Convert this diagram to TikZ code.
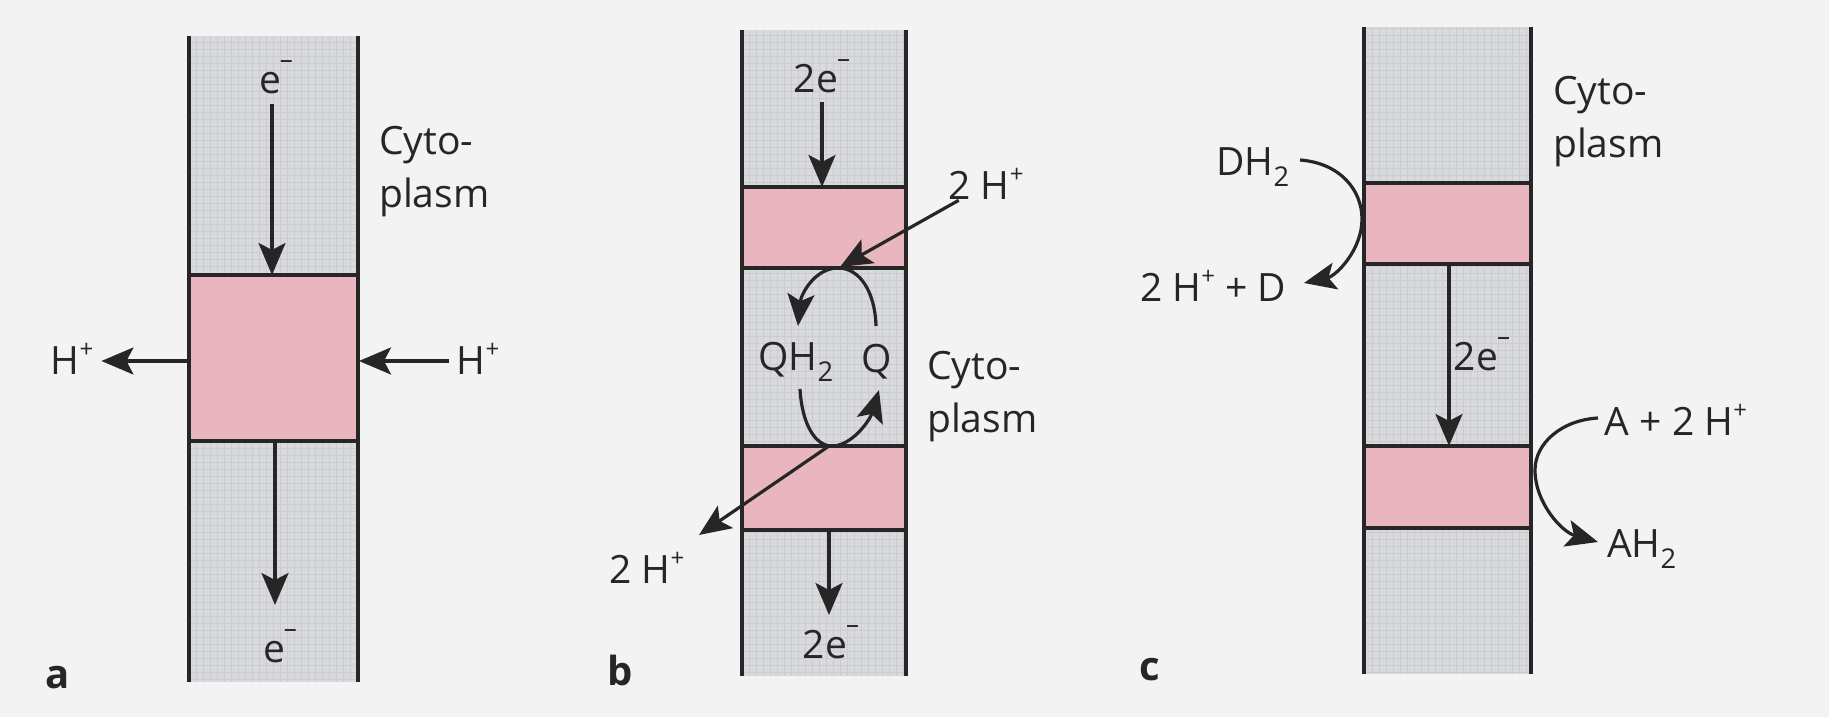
\documentclass[tikz,border=0pt]{standalone}
\usepackage{fontspec}
\setmainfont{Open Sans}
\usetikzlibrary{arrows.meta}
\definecolor{bgc}{HTML}{F3F3F3}
\definecolor{memc}{HTML}{D9DADD}
\definecolor{gridc}{HTML}{CACCD0}
\definecolor{pinkc}{HTML}{E9B6C0}
\definecolor{inkc}{HTML}{262626}
\newcommand{\plusup}{\raisebox{17pt}[0pt][0pt]{\fontsize{24}{24}\selectfont +}}
\newcommand{\minusup}{\kern-1pt\raisebox{25pt}[0pt][0pt]{\fontsize{26}{26}\selectfont –}}
\tikzset{
  lbl/.style={inner sep=0pt, text=inkc, font=\fontsize{39}{46}\selectfont},
  panlbl/.style={inner sep=0pt, text=inkc, font=\fontsize{40}{46}\selectfont\bfseries},
  memline/.style={draw=inkc, line width=3.6pt},
  boxline/.style={draw=inkc, line width=3.3pt},
  memfill/.style={fill=memc},
  pinkfill/.style={fill=pinkc},
  meshgrid/.style={draw=gridc, line width=0.5pt, step=7pt},
  arr/.style={draw=inkc, line width=3.2pt, -{Stealth[length=32pt,width=27pt,inset=7pt]}},
}
\begin{document}
\begin{tikzpicture}[x=1pt,y=-1pt]
\fill[bgc] (0,0) rectangle (1829,717);
\useasboundingbox (0,0) rectangle (1829,717);

% ---------------- panel a ----------------
\fill[memfill] (189,36) rectangle (358,682);
\draw[meshgrid] (189,36) grid (358,682);
\fill[pinkfill] (189,275) rectangle (358,441);
\draw[boxline] (189,275) -- (358,275);
\draw[boxline] (189,441) -- (358,441);
\draw[memline] (189,36) -- (189,682);
\draw[memline] (358,36) -- (358,682);

\node[lbl] (ea1) at (276,83) {e\minusup};
\node[lbl] (ea2) at (280,652) {e\minusup};
\node[lbl] (hla) at (72,361) {H\plusup};
\node[lbl] (hra) at (478,361) {H\plusup};
\node[lbl, anchor=base west] (cya) at (379,154) {Cyto-};
\node[lbl, anchor=base west] (pla) at (379,207) {plasm};
\node[panlbl] (la) at (58,678) {a};

\coordinate (a1s) at (272,104);
\coordinate (a1t) at (272,275);
\coordinate (a2s) at (275,441);
\coordinate (a2t) at (275,605);
\coordinate (ahl) at (189,361);
\coordinate (ahr) at (359,361);
\draw[arr] (a1s) -- (a1t);
\draw[arr] (a2s) -- (a2t);
\draw[arr, shorten >=8pt] (ahl) -- (hla.east);
\draw[arr, shorten <=8pt] (hra.west) -- (ahr);

% ---------------- panel b ----------------
\fill[memfill] (742,30) rectangle (906,676);
\draw[meshgrid] (742,30) grid (906,676);
\fill[pinkfill] (742,187) rectangle (906,268);
\fill[pinkfill] (742,446) rectangle (906,530);
\draw[boxline] (742,187) -- (906,187);
\draw[boxline] (742,268) -- (906,268);
\draw[boxline] (742,446) -- (906,446);
\draw[boxline] (742,530) -- (906,530);
\draw[memline] (742,30) -- (742,676);
\draw[memline] (906,30) -- (906,676);

\node[lbl] (eb1) at (822,79) {2e\minusup};
\node[lbl] (eb2) at (831,645) {2e\minusup};
\node[lbl] (hb1) at (986,185) {2 H\plusup};
\node[lbl] (hb2) at (647,569) {2 H\plusup};
\node[lbl] (qh2) at (796,362) {QH\textsubscript{2}};
\node[lbl] (qq) at (877,362) {Q};
\node[lbl, anchor=base west] (cyb) at (927,379) {Cyto-};
\node[lbl, anchor=base west] (plb) at (927,432) {plasm};
\node[panlbl] (lb) at (620,670) {b};

\coordinate (b1s) at (822,102);
\coordinate (b1t) at (822,187);
\coordinate (b2s) at (829,530);
\coordinate (b2t) at (829,615);
\coordinate (bq1) at (840,267);
\coordinate (bq2) at (829,446);
\coordinate (bl2) at (699,535);
\coordinate (ctr) at (876,326);
\coordinate (ctl) at (798,326);
\coordinate (cbl) at (800,389);
\coordinate (cbr) at (879,390);
\draw[arr] (b1s) -- (b1t);
\draw[arr] (b2s) -- (b2t);
\draw[arr, shorten <=2pt] (hb1) -- (bq1);
\draw[arr] (bq2) -- (bl2);
\draw[arr] (ctr) .. controls (875,292) and (860,268) .. (838,268)
             .. controls (815,268) and (801,294) .. (ctl);
\draw[arr] (cbl) .. controls (802,424) and (815,446) .. (832,446)
             .. controls (852,446) and (870,420) .. (cbr);

% ---------------- panel c ----------------
\fill[memfill] (1364,27) rectangle (1531,674);
\draw[meshgrid] (1364,27) grid (1531,674);
\fill[pinkfill] (1364,183) rectangle (1531,264);
\fill[pinkfill] (1364,446) rectangle (1531,528);
\draw[boxline] (1364,183) -- (1531,183);
\draw[boxline] (1364,264) -- (1531,264);
\draw[boxline] (1364,446) -- (1531,446);
\draw[boxline] (1364,528) -- (1531,528);
\draw[memline] (1364,27) -- (1364,674);
\draw[memline] (1531,27) -- (1531,674);

\node[lbl, anchor=base west] (cyc) at (1553,104) {Cyto-};
\node[lbl, anchor=base west] (plc) at (1553,157) {plasm};
\node[lbl] (dh2) at (1253,167) {DH\textsubscript{2}};
\node[lbl] (hd) at (1213,287) {2 H\plusup{} + D};
\node[lbl] (ec) at (1482,357) {2e\minusup};
\node[lbl] (ah) at (1676,421) {A + 2 H\plusup};
\node[lbl] (ah2) at (1642,549) {AH\textsubscript{2}};
\node[panlbl] (lc) at (1150,670) {c};

\coordinate (d1) at (1300,160);
\coordinate (d2) at (1304,283);
\coordinate (c1s) at (1449,264);
\coordinate (c1t) at (1449,446);
\coordinate (e1) at (1598,418);
\coordinate (e2) at (1598,542);
\draw[arr] (d1) .. controls (1340,163) and (1362,190) .. (1362,219)
           .. controls (1362,250) and (1336,276) .. (d2);
\draw[arr] (c1s) -- (c1t);
\draw[arr] (e1) .. controls (1562,420) and (1535,443) .. (1535,470)
           .. controls (1535,503) and (1562,532) .. (e2);
\end{tikzpicture}
\end{document}
